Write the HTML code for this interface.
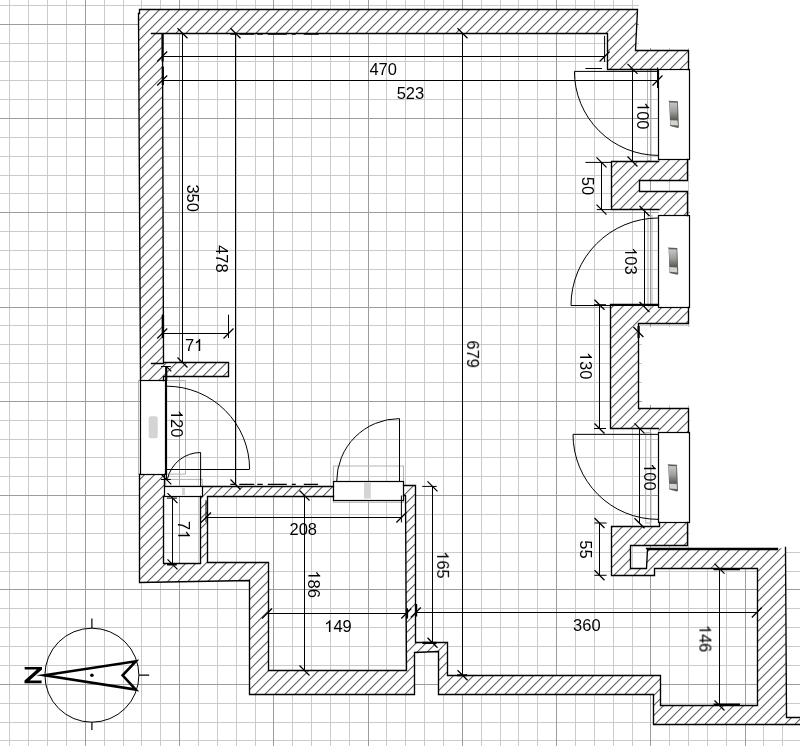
<!DOCTYPE html>
<html><head><meta charset="utf-8"><style>
html,body{margin:0;padding:0;background:#fff;width:800px;height:746px;overflow:hidden}
svg{position:absolute;left:0;top:0;display:block}
text{font-family:"Liberation Sans", sans-serif;font-size:16.5px;fill:#000}
</style></head><body>
<svg width="800" height="746" viewBox="0 0 800 746">
<defs>
<clipPath id="wclip"><path d="M139.85 9.4 L637 9.4 L635.6 50.75 L688.6 50.75 L688.6 69.1 L607 69.1 L607 33.3 L162.2 33.3 L163.4 362.5 L228.5 362.5 L228.5 376 L163.8 376 L163.8 380.4 L140.2 380.4 L138.4 13.1 L139.85 13.1 Z M139.9 474.1 L164.6 474.1 L164.6 486.1 L163.8 496.25 L163.8 563.2 L200.3 563.2 L200.3 496.25 L207.2 496.25 L207.2 562.2 L268.5 562.2 L268.5 670.4 L406.5 670.4 L405.3 495.6 L403.3 495.6 L403.3 485.3 L415.6 485.3 L415.6 642.8 L447.4 642.8 L447.4 675.25 L660.3 675.25 L660.3 705.5 L757.6 705.5 L757.6 568.6 L654.5 568.3 L654.5 575.3 L611.5 575.3 L611.5 526.5 L659 526.5 L659 522.5 L687.4 522.5 L687.4 545.5 L630.5 545.5 L630.5 568 L646.5 568 L647 549.5 L777 549.5 L777 548.8 L785.5 547.4 L786.2 717 L800 717 L800 724.4 L653.5 724.4 L653.5 694.3 L438.5 694.3 L438.5 651.6 L414.2 652.6 L414.2 694 L249.6 694 L249.6 580.8 L139.4 582.2 Z M202.3 486.1 L333.4 486.1 L333.4 496.25 L202.3 496.25 Z M611.3 161.5 L658.4 161.5 L658.4 159.4 L687.4 159.4 L687.4 180.2 L639.6 180.2 L639.6 191.25 L687.4 191.25 L687.4 215.4 L658.9 215.4 L658.9 209.5 L611.3 209.5 Z M610.6 304.7 L658.5 304.7 L658.5 307 L688.5 307 L688.5 323.4 L638.4 323.4 L638.4 408.8 L688.5 408.8 L688.5 432.6 L658.5 432.6 L658.5 428.5 L610.6 428.5 Z"/></clipPath>
<linearGradient id="hg" x1="0" y1="0" x2="0" y2="1">
<stop offset="0" stop-color="#c8c8c4"/><stop offset="0.5" stop-color="#a0a09c"/><stop offset="1" stop-color="#585858"/>
</linearGradient>
</defs>
<rect width="800" height="746" fill="#fff"/>
<path d="M9.50 0V746M28.50 0V746M47.50 0V746M66.50 0V746M104.50 0V746M123.50 0V746M141.50 0V746M160.50 0V746M198.50 0V746M217.50 0V746M236.50 0V746M255.50 0V746M292.50 0V746M311.50 0V746M330.50 0V746M349.50 0V746M386.50 0V746M405.50 0V746M424.50 0V746M443.50 0V746M481.50 0V746M500.50 0V746M518.50 0V746M537.50 0V746M575.50 0V746M594.50 0V746M613.50 0V746M632.50 0V746M669.50 0V746M688.50 0V746M707.50 0V746M726.50 0V746M763.50 0V746M782.50 0V746M0 5.50H800M0 43.50H800M0 61.50H800M0 80.50H800M0 99.50H800M0 137.50H800M0 156.50H800M0 175.50H800M0 193.50H800M0 231.50H800M0 250.50H800M0 269.50H800M0 288.50H800M0 325.50H800M0 344.50H800M0 363.50H800M0 382.50H800M0 420.50H800M0 439.50H800M0 457.50H800M0 476.50H800M0 514.50H800M0 533.50H800M0 552.50H800M0 571.50H800M0 608.50H800M0 627.50H800M0 646.50H800M0 665.50H800M0 703.50H800M0 722.50H800M0 740.50H800" stroke="#cbcbcb" stroke-width="1" fill="none"/>
<path d="M85.50 0V746M179.50 0V746M273.50 0V746M368.50 0V746M462.50 0V746M556.50 0V746M650.50 0V746M745.50 0V746M0 24.50H800M0 118.50H800M0 212.50H800M0 307.50H800M0 401.50H800M0 495.50H800M0 589.50H800M0 684.50H800" stroke="#9c9c9c" stroke-width="1" fill="none"/>
<path d="M639 0H800V550H690V48H639Z" fill="#fff"/>
<path d="M642 327H691V405H642Z" fill="#fff"/>
<path d="M139.85 9.4 L637 9.4 L635.6 50.75 L688.6 50.75 L688.6 69.1 L607 69.1 L607 33.3 L162.2 33.3 L163.4 362.5 L228.5 362.5 L228.5 376 L163.8 376 L163.8 380.4 L140.2 380.4 L138.4 13.1 L139.85 13.1 Z M139.9 474.1 L164.6 474.1 L164.6 486.1 L163.8 496.25 L163.8 563.2 L200.3 563.2 L200.3 496.25 L207.2 496.25 L207.2 562.2 L268.5 562.2 L268.5 670.4 L406.5 670.4 L405.3 495.6 L403.3 495.6 L403.3 485.3 L415.6 485.3 L415.6 642.8 L447.4 642.8 L447.4 675.25 L660.3 675.25 L660.3 705.5 L757.6 705.5 L757.6 568.6 L654.5 568.3 L654.5 575.3 L611.5 575.3 L611.5 526.5 L659 526.5 L659 522.5 L687.4 522.5 L687.4 545.5 L630.5 545.5 L630.5 568 L646.5 568 L647 549.5 L777 549.5 L777 548.8 L785.5 547.4 L786.2 717 L800 717 L800 724.4 L653.5 724.4 L653.5 694.3 L438.5 694.3 L438.5 651.6 L414.2 652.6 L414.2 694 L249.6 694 L249.6 580.8 L139.4 582.2 Z M202.3 486.1 L333.4 486.1 L333.4 496.25 L202.3 496.25 Z M611.3 161.5 L658.4 161.5 L658.4 159.4 L687.4 159.4 L687.4 180.2 L639.6 180.2 L639.6 191.25 L687.4 191.25 L687.4 215.4 L658.9 215.4 L658.9 209.5 L611.3 209.5 Z M610.6 304.7 L658.5 304.7 L658.5 307 L688.5 307 L688.5 323.4 L638.4 323.4 L638.4 408.8 L688.5 408.8 L688.5 432.6 L658.5 432.6 L658.5 428.5 L610.6 428.5 Z" fill="#fff"/>
<path d="M9.2 0L-750.8 760M19.2 0L-740.8 760M29.2 0L-730.8 760M39.2 0L-720.8 760M49.2 0L-710.8 760M59.2 0L-700.8 760M69.2 0L-690.8 760M79.2 0L-680.8 760M89.2 0L-670.8 760M99.2 0L-660.8 760M109.2 0L-650.8 760M119.2 0L-640.8 760M129.2 0L-630.8 760M139.2 0L-620.8 760M149.2 0L-610.8 760M159.2 0L-600.8 760M169.2 0L-590.8 760M179.2 0L-580.8 760M189.2 0L-570.8 760M199.2 0L-560.8 760M209.2 0L-550.8 760M219.2 0L-540.8 760M229.2 0L-530.8 760M239.2 0L-520.8 760M249.2 0L-510.8 760M259.2 0L-500.8 760M269.2 0L-490.8 760M279.2 0L-480.8 760M289.2 0L-470.8 760M299.2 0L-460.8 760M309.2 0L-450.8 760M319.2 0L-440.8 760M329.2 0L-430.8 760M339.2 0L-420.8 760M349.2 0L-410.8 760M359.2 0L-400.8 760M369.2 0L-390.8 760M379.2 0L-380.8 760M389.2 0L-370.8 760M399.2 0L-360.8 760M409.2 0L-350.8 760M419.2 0L-340.8 760M429.2 0L-330.8 760M439.2 0L-320.8 760M449.2 0L-310.8 760M459.2 0L-300.8 760M469.2 0L-290.8 760M479.2 0L-280.8 760M489.2 0L-270.8 760M499.2 0L-260.8 760M509.2 0L-250.8 760M519.2 0L-240.8 760M529.2 0L-230.8 760M539.2 0L-220.8 760M549.2 0L-210.8 760M559.2 0L-200.8 760M569.2 0L-190.8 760M579.2 0L-180.8 760M589.2 0L-170.8 760M599.2 0L-160.8 760M609.2 0L-150.8 760M619.2 0L-140.8 760M629.2 0L-130.8 760M639.2 0L-120.8 760M649.2 0L-110.8 760M659.2 0L-100.8 760M669.2 0L-90.8 760M679.2 0L-80.8 760M689.2 0L-70.8 760M699.2 0L-60.8 760M709.2 0L-50.8 760M719.2 0L-40.8 760M729.2 0L-30.8 760M739.2 0L-20.8 760M749.2 0L-10.8 760M759.2 0L-0.8 760M769.2 0L9.2 760M779.2 0L19.2 760M789.2 0L29.2 760M799.2 0L39.2 760M809.2 0L49.2 760M819.2 0L59.2 760M829.2 0L69.2 760M839.2 0L79.2 760M849.2 0L89.2 760M859.2 0L99.2 760M869.2 0L109.2 760M879.2 0L119.2 760M889.2 0L129.2 760M899.2 0L139.2 760M909.2 0L149.2 760M919.2 0L159.2 760M929.2 0L169.2 760M939.2 0L179.2 760M949.2 0L189.2 760M959.2 0L199.2 760M969.2 0L209.2 760M979.2 0L219.2 760M989.2 0L229.2 760M999.2 0L239.2 760M1009.2 0L249.2 760M1019.2 0L259.2 760M1029.2 0L269.2 760M1039.2 0L279.2 760M1049.2 0L289.2 760M1059.2 0L299.2 760M1069.2 0L309.2 760M1079.2 0L319.2 760M1089.2 0L329.2 760M1099.2 0L339.2 760M1109.2 0L349.2 760M1119.2 0L359.2 760M1129.2 0L369.2 760M1139.2 0L379.2 760M1149.2 0L389.2 760M1159.2 0L399.2 760M1169.2 0L409.2 760M1179.2 0L419.2 760M1189.2 0L429.2 760M1199.2 0L439.2 760M1209.2 0L449.2 760M1219.2 0L459.2 760M1229.2 0L469.2 760M1239.2 0L479.2 760M1249.2 0L489.2 760M1259.2 0L499.2 760M1269.2 0L509.2 760M1279.2 0L519.2 760M1289.2 0L529.2 760M1299.2 0L539.2 760M1309.2 0L549.2 760M1319.2 0L559.2 760M1329.2 0L569.2 760M1339.2 0L579.2 760M1349.2 0L589.2 760M1359.2 0L599.2 760M1369.2 0L609.2 760M1379.2 0L619.2 760M1389.2 0L629.2 760M1399.2 0L639.2 760M1409.2 0L649.2 760M1419.2 0L659.2 760M1429.2 0L669.2 760M1439.2 0L679.2 760M1449.2 0L689.2 760M1459.2 0L699.2 760M1469.2 0L709.2 760M1479.2 0L719.2 760M1489.2 0L729.2 760M1499.2 0L739.2 760M1509.2 0L749.2 760M1519.2 0L759.2 760M1529.2 0L769.2 760M1539.2 0L779.2 760M1549.2 0L789.2 760M1559.2 0L799.2 760M1569.2 0L809.2 760M1579.2 0L819.2 760M1589.2 0L829.2 760M1599.2 0L839.2 760" clip-path="url(#wclip)" stroke="#5a5a5a" stroke-width="1.05" fill="none"/>
<g fill="none" stroke="#b4b4b4" stroke-width="1">
<rect x="647.5" y="69.6" width="3.50" height="91.00"/><rect x="648" y="215.4" width="4.00" height="91.60"/><rect x="645.75" y="432.6" width="5.25" height="90.40"/><rect x="138.5" y="380.6" width="47.00" height="93.50"/><rect x="165.75" y="479.4" width="36.55" height="6.70"/><rect x="333.4" y="466" width="70.10" height="36.30"/>
</g>
<g fill="#fff" stroke="#000" stroke-width="1.2">
<rect x="658.5" y="69.5" width="31.00" height="90.00"/><rect x="658.5" y="215.5" width="31.00" height="92.00"/><rect x="658.5" y="432.5" width="31.00" height="90.00"/><rect x="140.5" y="380.5" width="25.00" height="94.00"/><rect x="164.5" y="486.5" width="38.00" height="10.00"/><rect x="333.5" y="481.5" width="70.00" height="19.00"/>
</g>
<g transform="translate(668.2 100.8)"><path d="M0 0L9.7 0.5L10.7 26.5L9.6 27.2L2 25.3L1 1Z" fill="#5e5e5e"/><path d="M1.4 1.6L9 1.9L9.2 19.2L1.9 19.2Z" fill="url(#hg)"/><path d="M1.9 19.4L9.3 19.8L9.8 24.8L2.3 24.1Z" fill="#d4d4ce"/></g><g transform="translate(667.6 247.6)"><path d="M0 0L9.7 0.5L10.7 26.5L9.6 27.2L2 25.3L1 1Z" fill="#5e5e5e"/><path d="M1.4 1.6L9 1.9L9.2 19.2L1.9 19.2Z" fill="url(#hg)"/><path d="M1.9 19.4L9.3 19.8L9.8 24.8L2.3 24.1Z" fill="#d4d4ce"/></g><g transform="translate(667.3 464.3)"><path d="M0 0L9.7 0.5L10.7 26.5L9.6 27.2L2 25.3L1 1Z" fill="#5e5e5e"/><path d="M1.4 1.6L9 1.9L9.2 19.2L1.9 19.2Z" fill="url(#hg)"/><path d="M1.9 19.4L9.3 19.8L9.8 24.8L2.3 24.1Z" fill="#d4d4ce"/></g><rect x="148.7" y="416.3" width="9" height="22" rx="2" fill="#d4d4d4"/><rect x="364" y="482.4" width="6.8" height="16.1" fill="#d4d4d4"/><rect x="182" y="487.8" width="3" height="7.3" fill="#d4d4d4"/>
<path d="M139.5 13.5 L139.5 9.5 L637.5 9.5 L635.5 50.5 L688.5 50.5 L688.5 69.5 M139.5 13.5 L138.5 13.5 L140.5 380.5 M151.5 33.5 L607.5 33.5 L607.5 69.5 L658.5 69.5 M162.5 33.5 L163.5 362.5 L228.5 362.5 L228.5 376.5 L163.5 376.5 L163.5 380.5 M151.5 363.5 L163.5 363.5 M139.5 474.5 L139.5 582.5 L249.5 580.5 L249.5 694.5 L414.5 694.5 L414.5 652.5 L438.5 651.5 L438.5 694.5 L653.5 694.5 L653.5 724.5 L800.5 724.5 M164.5 474.5 L164.5 486.5 M163.5 496.5 L163.5 563.5 L200.5 563.5 L200.5 496.5 M333.5 496.5 L207.5 496.5 L207.5 562.5 L268.5 562.5 L268.5 670.5 L406.5 670.5 L405.5 495.5 L403.5 495.5 M202.5 486.5 L333.5 486.5 M403.5 485.5 L415.5 485.5 L415.5 642.5 L447.5 642.5 L447.5 675.5 L660.5 675.5 L660.5 705.5 L757.5 705.5 L757.5 568.5 L654.5 568.5 L654.5 575.5 L611.5 575.5 L611.5 526.5 L659.5 526.5 L659.5 522.5 M687.5 522.5 L687.5 545.5 L630.5 545.5 L630.5 568.5 L646.5 568.5 L647.5 549.5 L777.5 549.5 M646.5 548.5 L777.5 548.5 M785.5 547.5 L786.5 717.5 L800.5 717.5 M658.5 428.5 L610.5 428.5 L610.5 304.5 L658.5 304.5 M688.5 307.5 L688.5 323.5 L638.5 323.5 L638.5 408.5 L688.5 408.5 L688.5 432.5 M658.5 209.5 L611.5 209.5 L611.5 161.5 L658.5 161.5 M687.5 159.5 L687.5 180.5 L639.5 180.5 L639.5 191.5 L687.5 191.5 L687.5 215.5" fill="none" stroke="#000" stroke-width="1.35" stroke-linejoin="miter" stroke-linecap="square"/>
<path d="M574.40 71.40A84 84 0 0 0 658.40 155.40M574.4 71.4H658.4M658.50 218.00A87.5 87.5 0 0 0 571.00 305.50M571 305.5H658.5M573.00 434.35A85 85 0 0 0 658.00 519.35M573 434.35H658M166.60 386.20A83 83 0 0 1 249.60 469.20M166.6 469.5H249.6M166.6 385V474M336.70 481.40A62.8 62.8 0 0 1 399.50 418.60M399.5 418.6V481.4M200.60 452.50A34 34 0 0 0 167.47 478.85M200.6 452.5V486M585.4 68.5H602" fill="none" stroke="#000" stroke-width="1"/>
<path d="M162.2 56.5H604.6M604.6 35.9V62M162.2 80.5H657.5M657.5 67.4V88M182.5 33.3V362.5M235.5 33.3V484.5M162.25 333.5H228.5M162.25 314.7V338M228.5 314.7V338M462.5 33.3V675.25M632.5 68.9V161.5M601.5 162.4V209.6M585.4 162.4H611.3M596.75 209.6H611.3M644.5 211V307M599.5 304.7V428.5M594 304.7H606M594 428.5H606M639.5 428.4V523.2M599.5 523V575.3M594.4 523H606.6M594.4 575.3H606.6M166.5 366.4V479.4M161 479.5H170.8M161 366.5H170.8M172.5 498.1V564.4M166.9 498.1H177M206 517.5H401.4M206 500.2V522M401.4 495.5V522.5M304.5 495.5V670.5M432.5 486.4V642.8M422.2 486.4H436.75M267 613.5H406.3M415.8 612.5H756.8M719.5 568.6V705.5" fill="none" stroke="#000" stroke-width="1"/>
<path d="M157.2 61.5L167.2 51.5M599.6 61.5L609.6 51.5M157.2 85.5L167.2 75.5M652.5 85.5L662.5 75.5M177.5 28.299999999999997L187.5 38.3M177.5 357.5L187.5 367.5M230.5 28.299999999999997L240.5 38.3M230.5 479.5L240.5 489.5M157.25 338.5L167.25 328.5M223.5 338.5L233.5 328.5M457.5 28.299999999999997L467.5 38.3M457.5 670.25L467.5 680.25M627.5 63.900000000000006L637.5 73.9M627.5 156.5L637.5 166.5M596.5 157.4L606.5 167.4M596.5 204.6L606.5 214.6M639.5 206L649.5 216M639.5 302L649.5 312M594.5 299.7L604.5 309.7M594.5 423.5L604.5 433.5M634.5 423.4L644.5 433.4M634.5 518.2L644.5 528.2M594.5 518L604.5 528M594.5 570.3L604.5 580.3M166.3 366.4L171.3 371.4M161.3 474.4L171.3 484.4M167.5 493.1L177.5 503.1M167.5 559.4L177.5 569.4M201 522.5L211 512.5M396.4 522.5L406.4 512.5M299.5 490.5L309.5 500.5M299.5 665.5L309.5 675.5M427.5 481.4L437.5 491.4M427.5 637.8L437.5 647.8M262 618.5L272 608.5M401.3 618.5L411.3 608.5M410.8 617.5L420.8 607.5M751.8 617.5L761.8 607.5M714.5 563.6L724.5 573.6M714.5 700.5L724.5 710.5M633.4 327L643.4 337" fill="none" stroke="#000" stroke-width="1.25"/>
<path d="M713.5 569.2H740M713.5 704.6H740M167 564.3H176.8M166.2 366V381M422.5 642.8H436.5M457 675.25H467M638.6 326V338M407 608.3V618.5M416.1 604V616.6M162.6 34V61.5M162.8 66.5V85M163 314.7V338" fill="none" stroke="#000" stroke-width="2.2"/>
<path d="M230.3 34.2H319M230.3 484.3H318" fill="none" stroke="#000" stroke-width="1.3" stroke-dasharray="6 3 15 3 5.5 5 19 5 4 8 15 3"/>
<g style="opacity:0.999"><g transform="translate(383.20 74.90)"><text x="0" y="0" text-anchor="middle">470</text></g><g transform="translate(410.40 98.80)"><text x="0" y="0" text-anchor="middle">523</text></g><g transform="translate(187.30 198.15) rotate(90)"><text x="0" y="0" text-anchor="middle">350</text></g><g transform="translate(216.30 258.80) rotate(90)"><text x="0" y="0" text-anchor="middle">478</text></g><g transform="translate(194.05 350.90)"><text x="0" y="0" text-anchor="middle">7 </text><path d="M763 0L583 0L583 1147Q518 1085 412.5 1023Q307 961 223 930L223 1104Q374 1175 487 1276Q600 1377 647 1472L763 1472Z" transform="translate(0.000 0) scale(0.008057 -0.008057)"/></g><g transform="translate(171.00 423.65) rotate(90)"><text x="0" y="0" text-anchor="middle"> 20</text><path d="M763 0L583 0L583 1147Q518 1085 412.5 1023Q307 961 223 930L223 1104Q374 1175 487 1276Q600 1377 647 1472L763 1472Z" transform="translate(-13.765 0) scale(0.008057 -0.008057)"/></g><g transform="translate(178.20 530.05) rotate(90)"><text x="0" y="0" text-anchor="middle">7 </text><path d="M763 0L583 0L583 1147Q518 1085 412.5 1023Q307 961 223 930L223 1104Q374 1175 487 1276Q600 1377 647 1472L763 1472Z" transform="translate(0.000 0) scale(0.008057 -0.008057)"/></g><g transform="translate(303.25 535.10)"><text x="0" y="0" text-anchor="middle">208</text></g><g transform="translate(308.40 584.12) rotate(90)"><text x="0" y="0" text-anchor="middle"> 86</text><path d="M763 0L583 0L583 1147Q518 1085 412.5 1023Q307 961 223 930L223 1104Q374 1175 487 1276Q600 1377 647 1472L763 1472Z" transform="translate(-13.765 0) scale(0.008057 -0.008057)"/></g><g transform="translate(338.00 632.00)"><text x="0" y="0" text-anchor="middle"> 49</text><path d="M763 0L583 0L583 1147Q518 1085 412.5 1023Q307 961 223 930L223 1104Q374 1175 487 1276Q600 1377 647 1472L763 1472Z" transform="translate(-13.765 0) scale(0.008057 -0.008057)"/></g><g transform="translate(437.10 564.90) rotate(90)"><text x="0" y="0" text-anchor="middle"> 65</text><path d="M763 0L583 0L583 1147Q518 1085 412.5 1023Q307 961 223 930L223 1104Q374 1175 487 1276Q600 1377 647 1472L763 1472Z" transform="translate(-13.765 0) scale(0.008057 -0.008057)"/></g><g transform="translate(467.10 354.20) rotate(90)"><text x="0" y="0" text-anchor="middle">679</text></g><g transform="translate(637.40 115.75) rotate(90)"><text x="0" y="0" text-anchor="middle"> 00</text><path d="M763 0L583 0L583 1147Q518 1085 412.5 1023Q307 961 223 930L223 1104Q374 1175 487 1276Q600 1377 647 1472L763 1472Z" transform="translate(-13.765 0) scale(0.008057 -0.008057)"/></g><g transform="translate(582.30 186.00) rotate(90)"><text x="0" y="0" text-anchor="middle">50</text></g><g transform="translate(625.10 260.95) rotate(90)"><text x="0" y="0" text-anchor="middle"> 03</text><path d="M763 0L583 0L583 1147Q518 1085 412.5 1023Q307 961 223 930L223 1104Q374 1175 487 1276Q600 1377 647 1472L763 1472Z" transform="translate(-13.765 0) scale(0.008057 -0.008057)"/></g><g transform="translate(580.10 365.65) rotate(90)"><text x="0" y="0" text-anchor="middle"> 30</text><path d="M763 0L583 0L583 1147Q518 1085 412.5 1023Q307 961 223 930L223 1104Q374 1175 487 1276Q600 1377 647 1472L763 1472Z" transform="translate(-13.765 0) scale(0.008057 -0.008057)"/></g><g transform="translate(644.05 476.85) rotate(90)"><text x="0" y="0" text-anchor="middle"> 00</text><path d="M763 0L583 0L583 1147Q518 1085 412.5 1023Q307 961 223 930L223 1104Q374 1175 487 1276Q600 1377 647 1472L763 1472Z" transform="translate(-13.765 0) scale(0.008057 -0.008057)"/></g><g transform="translate(580.15 549.50) rotate(90)"><text x="0" y="0" text-anchor="middle">55</text></g><g transform="translate(586.80 631.00)"><text x="0" y="0" text-anchor="middle">360</text></g><g transform="translate(699.40 638.55) rotate(90)"><text x="0" y="0" text-anchor="middle"> 46</text><path d="M763 0L583 0L583 1147Q518 1085 412.5 1023Q307 961 223 930L223 1104Q374 1175 487 1276Q600 1377 647 1472L763 1472Z" transform="translate(-13.765 0) scale(0.008057 -0.008057)"/></g></g>
<g>
<circle cx="91.9" cy="675.2" r="47" fill="none" stroke="#000" stroke-width="1"/>
<path d="M91.9 618.4V628M91.9 722.3V730M139 675.2H149.2" stroke="#000" stroke-width="1.2"/>
<path d="M44.5 675.3L135.8 661.3L122.6 675.3L135.8 689.6Z" fill="none" stroke="#000" stroke-width="2.6" stroke-linejoin="miter" stroke-miterlimit="12"/>
<circle cx="91.9" cy="675.3" r="1.8" fill="#000"/>
<path d="M24.7 666.9H42V669.5L29.6 680.6H41.6V683.2H24.5V680.6L36.9 669.5H24.7Z" fill="#000"/>
</g>
</svg>
</body></html>
